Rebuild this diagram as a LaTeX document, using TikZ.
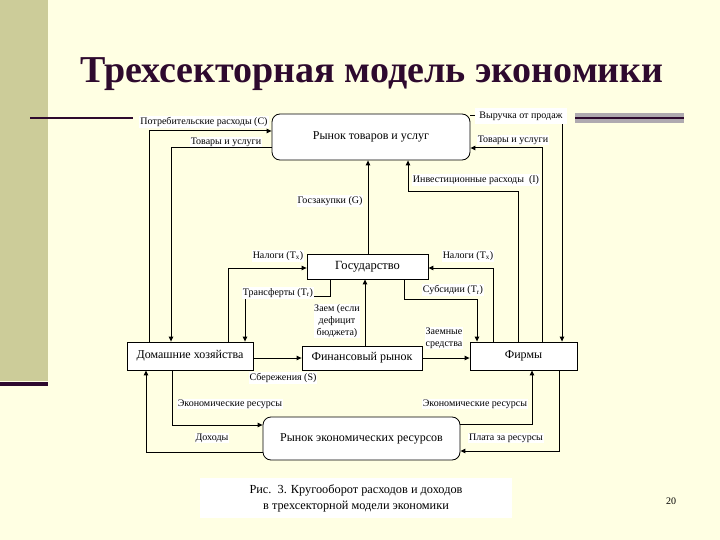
\documentclass[tikz,border=0pt]{standalone}
\usepackage{fontspec}
\setmainfont{Liberation Serif}
\usetikzlibrary{arrows.meta}
\definecolor{bg}{HTML}{FFFFE3}
\definecolor{bar}{HTML}{CCCC99}
\definecolor{ttl}{HTML}{2E0A2E}
\definecolor{band}{HTML}{AFAAB0}
\begin{document}
\begin{tikzpicture}[x=1pt,y=-1pt,
  box/.style={draw, line width=0.8pt, fill=white, inner sep=0pt, font=\fontsize{12}{13}\selectfont},
  rbox/.style={box, rounded corners=8pt},
  conn/.style={line width=1pt, -{Triangle[length=5pt,width=4.5pt]}},
  lbl/.style={fill=white, inner sep=1pt, font=\fontsize{10}{11}\selectfont, align=center}]
% background
\fill[bg] (0,0) rectangle (720,540);
\useasboundingbox (0,0) rectangle (720,540);
\fill[bar] (0,0) rectangle (48,381);
\fill[ttl] (0,382) rectangle (48,386);
\draw[ttl, line width=2pt] (30,118) -- (133,118);
\fill[band] (575,113) rectangle (684,123);
\draw[ttl, line width=2pt] (575,118) -- (684,118);
% title
\node[anchor=base, text=ttl, font=\fontsize{38}{40}\selectfont\bfseries] (title) at (372,83) {Трехсекторная модель экономики};
% boxes
\node[rbox, minimum width=198pt, minimum height=46pt] (mkt) at (371,137) {Рынок товаров и услуг};
\node[box, minimum width=121pt, minimum height=25pt, font=\fontsize{12.5}{13}\selectfont] (gos) at (367.5,266.5) {Государство};
\node[box, minimum width=126pt, minimum height=28pt] (hh) at (190,356) {Домашние хозяйства};
\node[box, minimum width=120pt, minimum height=24pt] (fin) at (362,358) {Финансовый рынок};
\node[box, minimum width=107pt, minimum height=28pt] (firm) at (523.5,356) {Фирмы};
\node[rbox, minimum width=197pt, minimum height=43pt] (res) at (361.5,438.5) {Рынок экономических ресурсов};
% bend points
\coordinate (c1) at (149,131);
\coordinate (c2) at (171,148);
\coordinate (c3) at (562,116);
\coordinate (c4) at (542,148);
\coordinate (c5a) at (518,192);
\coordinate (c5b) at (408,192);
\coordinate (c7) at (228,268);
\coordinate (c8a) at (330,296);
\coordinate (c8b) at (245,296);
\coordinate (c9) at (493,268);
\coordinate (c10a) at (404,299);
\coordinate (c10b) at (477,299);
\coordinate (c11) at (0,358);
\coordinate (c12) at (365,0);
\coordinate (c14) at (172,425);
\coordinate (c15) at (146,452);
\coordinate (c16) at (532,424);
\coordinate (c17) at (559,451);
% connectors
\draw[conn] (hh.north -| c1) -- (c1) -- (mkt.west |- c1);
\draw[conn] (mkt.west |- c2) -- (c2) -- (hh.north -| c2);
\draw[conn] (mkt.east |- c3) -- (c3) -- (firm.north -| c3);
\draw[conn] (firm.north -| c4) -- (c4) -- (mkt.east |- c4);
\draw[conn] (firm.north -| c5a) -- (c5a) -- (c5b) -- (mkt.south -| c5b);
\draw[conn] (gos.north -| 368,0) -- (mkt.south -| 368,0);
\draw[conn] (hh.north -| c7) -- (c7) -- (gos.west |- c7);
\draw[conn] (gos.south -| c8a) -- (c8a) -- (c8b) -- (hh.north -| c8b);
\draw[conn] (firm.north -| c9) -- (c9) -- (gos.east |- c9);
\draw[conn] (gos.south -| c10a) -- (c10a) -- (c10b) -- (firm.north -| c10b);
\draw[conn] (hh.east |- c11) -- (fin.west |- c11);
\draw[conn] (fin.north -| c12) -- (gos.south -| c12);
\draw[conn] (fin.east |- c11) -- (firm.west |- c11);
\draw[conn] (hh.south -| c14) -- (c14) -- (res.west |- c14);
\draw[conn] (res.west |- c15) -- (c15) -- (hh.south -| c15);
\draw[conn] (res.east |- c16) -- (c16) -- (firm.south -| c16);
\draw[conn] (firm.south -| c17) -- (c17) -- (res.east |- c17);
% labels
\node[lbl] (l1) at (204,122) {Потребительские расходы (С)};
\node[lbl] (l2) at (226,142) {Товары и услуги};
\node[lbl, inner xsep=4pt, inner ysep=4pt] (l3) at (521,116) {Выручка от продаж};
\node[lbl] (l4) at (513,140) {Товары и услуги};
\node[lbl] (l5) at (476,180) {Инвестиционные расходы\ \ (I)};
\node[lbl] (l6) at (330,201) {Госзакупки (G)};
\node[lbl] (l7) at (278,256) {Налоги (T\textsubscript{x})};
\node[lbl] (l8) at (468,256) {Налоги (T\textsubscript{x})};
\node[lbl] (l9) at (278,293) {Трансферты (T\textsubscript{r})};
\node[lbl] (l10) at (453,290) {Субсидии (T\textsubscript{r})};
\node[lbl, inner sep=0.5pt, font=\fontsize{10}{12}\selectfont] (l11) at (337,321) {Заем (если\\дефицит\\бюджета)};
\node[lbl, font=\fontsize{10}{12}\selectfont] (l12) at (444,338) {Заемные\\средства};
\node[lbl] (l13) at (283,378) {Сбережения (S)};
\node[lbl] (l14) at (230,404) {Экономические ресурсы};
\node[lbl] (l15) at (475,404) {Экономические ресурсы};
\node[lbl] (l16) at (212,438) {Доходы};
\node[lbl] (l17) at (506,438) {Плата за ресурсы};
% caption
\node[fill=white, minimum width=312pt, minimum height=40pt, inner sep=0pt, align=center, font=\fontsize{12.3}{16}\selectfont] (cap) at (356,498) {Рис.\ \ 3. Кругооборот расходов и доходов\\в трехсекторной модели экономики};
\node[font=\fontsize{10}{12}\selectfont] (pg) at (671,501) {20};
\end{tikzpicture}
\end{document}
